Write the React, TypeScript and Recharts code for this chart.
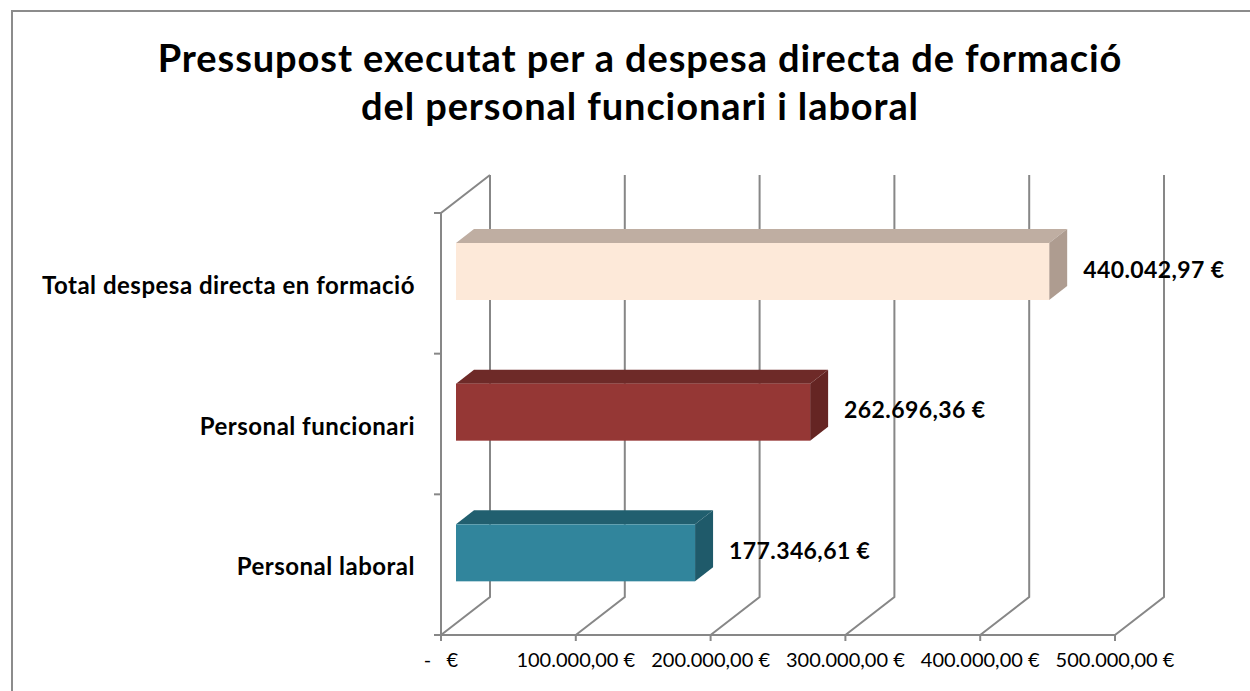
import React from "react";
import { BarChart, Bar, XAxis, YAxis, CartesianGrid } from "recharts";

// chart values
const categories = [
  "Total despesa directa en formació",
  "Personal funcionari",
  "Personal laboral",
];
const values = [440042.97, 262696.36, 177346.61];
const xTicks = [0, 100000, 200000, 300000, 400000, 500000];
const xTickLabels = [
  "-   €",
  "100.000,00 €",
  "200.000,00 €",
  "300.000,00 €",
  "400.000,00 €",
  "500.000,00 €",
];
const titleLines = [
  "Pressupost executat per a despesa directa de formació",
  "del personal funcionari i laboral",
];

const data = categories.map((name, i) => ({ name, value: values[i] }));

// bar colours: front / top / side
const faceColors = ["#FDE9D9", "#953735", "#31859C"];
const topColors = ["#BFAEA2", "#6E2A28", "#215F6F"];
const sideColors = ["#AE9C90", "#652523", "#1F5A6A"];

const W = 1250;
const H = 691;
const FLOOR_DX = 49;
const FLOOR_DY = -38;
const BAR_SHIFT_X = 15;
const BAR_SHIFT_Y = -12;
const BAR_DX = 18;
const BAR_DY = -14;
const GRID = "#878787";
const FONT = "Lato, 'Open Sans', sans-serif";

function euro(v: number) {
  const [int, dec] = v.toFixed(2).split(".");
  return int.replace(/\B(?=(\d{3})+(?!\d))/g, ".") + "," + dec + " €";
}

// back-wall grid line: floor diagonal then up the wall
const gridLine = (p: any) => {
  const { x1, y1, y2 } = p;
  const bx = x1 + FLOOR_DX;
  const by = y2 + FLOOR_DY;
  const isLeft = p.index === 0;
  const band = (y2 - y1) / categories.length;
  return (
    <g key={`g-${x1}`}>
      <path
        d={`M${x1},${y2} L${bx},${by} L${bx},${y1 + FLOOR_DY}`}
        stroke={GRID}
        strokeWidth={2}
        fill="none"
      />
      {isLeft && (
        <g>
          <path
            d={`M${x1},${y2} L${x1},${y1} L${bx},${y1 + FLOOR_DY}`}
            stroke={GRID}
            strokeWidth={2}
            fill="none"
          />
          {categories.map((_, k) => (
            <line
              key={k}
              x1={x1 - 7}
              x2={x1}
              y1={y1 + k * band}
              y2={y1 + k * band}
              stroke={GRID}
              strokeWidth={2}
            />
          ))}
          <line x1={x1 - 7} x2={x1} y1={y2} y2={y2} stroke={GRID} strokeWidth={2} />
        </g>
      )}
    </g>
  );
};

const Bar3D = (props: any) => {
  const { x, y, width, height, payload } = props;
  const i = categories.indexOf(payload.name);
  const fx = x + BAR_SHIFT_X;
  const fy = y + BAR_SHIFT_Y;
  return (
    <g>
      <polygon
        points={`${fx},${fy} ${fx + BAR_DX},${fy + BAR_DY} ${fx + width + BAR_DX},${fy + BAR_DY} ${fx + width},${fy}`}
        fill={topColors[i]}
      />
      <polygon
        points={`${fx + width},${fy} ${fx + width + BAR_DX},${fy + BAR_DY} ${fx + width + BAR_DX},${fy + BAR_DY + height} ${fx + width},${fy + height}`}
        fill={sideColors[i]}
      />
      <rect x={fx} y={fy} width={width} height={height} fill={faceColors[i]} />
      <text
        x={fx + width + BAR_DX + 16}
        y={fy + height / 2 - 3}
        dominantBaseline="central"
        fontFamily={FONT}
        fontWeight={700}
        fontSize={23}
        letterSpacing={0.4}
        fill="#000"
      >
        {euro(payload.value)}
      </text>
    </g>
  );
};

const YTick = (p: any) => (
  <text
    x={p.x}
    y={p.y + 1}
    textAnchor="end"
    dominantBaseline="central"
    fontFamily={FONT}
    fontWeight={700}
    fontSize={24}
    letterSpacing={0.5}
    fill="#000"
  >
    {p.payload.value}
  </text>
);

const XTick = (p: any) => (
  <text
    x={p.x}
    y={p.y}
    dy="0.71em"
    textAnchor="middle"
    fontFamily={FONT}
    fontSize={20}
    fill="#000"
    style={{ whiteSpace: "pre" }}
  >
    {xTickLabels[xTicks.indexOf(p.payload.value)]}
  </text>
);

export default function App() {
  return (
    <div style={{ position: "relative", width: W, height: H, overflow: "hidden", background: "#fff" }}>
      <style>{`body{margin:0}`}</style>
      <div
        style={{
          position: "absolute",
          left: 11,
          top: 10,
          width: 1300,
          height: 720,
          border: "2px solid #8c8c8c",
          boxSizing: "border-box",
        }}
      />
      <svg width={W} height={140} style={{ position: "absolute", left: 0, top: 0 }}>
        {titleLines.map((t, i) => (
          <text
            key={i}
            x={640}
            y={72 + i * 48}
            textAnchor="middle"
            fontFamily={FONT}
            fontWeight={700}
            fontSize={38}
            letterSpacing={0.9}
            fill="#000"
          >
            {t}
          </text>
        ))}
      </svg>
      <div style={{ position: "absolute", left: 0, top: 0 }}>
        <BarChart
          width={W}
          height={H}
          data={data}
          layout="vertical"
          margin={{ top: 213, right: 135, bottom: 16, left: 0 }}
          barSize={57}
        >
          <CartesianGrid horizontal={false} vertical={gridLine} />
          <XAxis
            type="number"
            domain={[0, 500000]}
            ticks={xTicks}
            height={40}
            tick={<XTick />}
            tickSize={6}
            tickMargin={12}
            axisLine={{ stroke: GRID, strokeWidth: 2 }}
            tickLine={{ stroke: GRID, strokeWidth: 2 }}
          />
          <YAxis
            type="category"
            dataKey="name"
            width={441}
            axisLine={false}
            tickLine={false}
            tickSize={0}
            tickMargin={26}
            tick={<YTick />}
          />
          <Bar dataKey="value" shape={<Bar3D />} isAnimationActive={false} />
        </BarChart>
      </div>
    </div>
  );
}
